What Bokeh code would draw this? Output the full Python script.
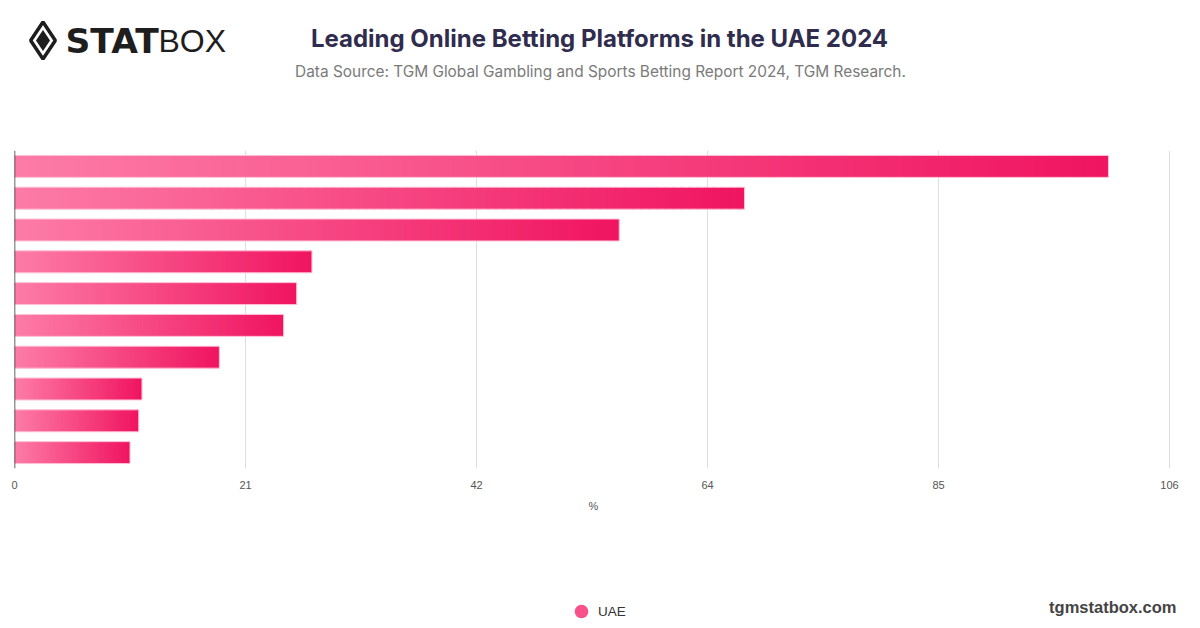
import numpy as np
from bokeh.plotting import figure
from bokeh.layouts import column
from bokeh.models import (FactorRange, Range1d, FixedTicker, Span, Label,
                          Legend, LegendItem, ColumnDataSource)
from bokeh.embed import file_html
from bokeh.resources import INLINE

# ---- data ----
platforms = ["Platform 1", "Platform 2", "Platform 3", "Platform 4", "Platform 5",
             "Platform 6", "Platform 7", "Platform 8", "Platform 9", "Platform 10"]
uae_share = [100.4, 67.0, 55.5, 27.3, 25.9, 24.7, 18.8, 11.7, 11.4, 10.6]
tick_values = [0, 21.2, 42.4, 63.6, 84.8, 106]
tick_labels = ["0", "21", "42", "64", "85", "106"]
axis_max = 106
axis_title = "%"
series_name = "UAE"
title_text = "Leading Online Betting Platforms in the UAE 2024"
subtitle_text = "Data Source: TGM Global Gambling and Sports Betting Report 2024, TGM Research."

W = 1200
HH, MH, FH = 140, 355, 133
FL = 14          # frame left (page px)
AX_R = 1169      # page px where axis_max sits
# extend the frame to the right page edge while keeping axis_max at AX_R
x_end = axis_max * (W - FL) / (AX_R - FL)


def canvas(h):
    f = figure(width=W, height=h, output_backend="svg", toolbar_location=None,
               x_range=Range1d(FL, W), y_range=Range1d(0, h),
               x_axis_type=None, y_axis_type=None,
               min_border_left=FL, min_border_right=0,
               min_border_top=0, min_border_bottom=0)
    f.outline_line_color = None
    f.background_fill_color = "white"
    f.border_fill_color = "white"
    return f


# ---- header ----
hd = canvas(HH)
hd.add_layout(Label(x=599, y=HH - 38, text=title_text, text_align="center",
                    text_baseline="middle", text_font="Inter", text_font_style="bold",
                    text_font_size="24px", text_color="#2f2c4d"))
hd.add_layout(Label(x=600, y=HH - 71, text=subtitle_text, text_align="center",
                    text_baseline="middle", text_font="Inter",
                    text_font_size="15.4px", text_color="#7a7a7a"))
# logo
hd.scatter(x=[42.5], y=[HH - 40], marker="diamond", size=37, fill_color=None,
           line_color="#1e1e1e", line_width=3.5)
hd.scatter(x=[42.5], y=[HH - 40], marker="diamond", size=21, fill_color="#1e1e1e",
           line_color=None)
hd.add_layout(Label(x=65, y=HH - 40, text="STAT", text_align="left",
                    text_baseline="middle", text_font="DejaVu Sans",
                    text_font_style="bold", text_font_size="34.5px", text_color="#1e1e1e"))
hd.add_layout(Label(x=158, y=HH - 40, text="BOX", text_align="left",
                    text_baseline="middle", text_font="Liberation Sans",
                    text_font_size="32px", text_color="#1e1e1e"))

# ---- main chart ----
p = figure(width=W, height=MH, output_backend="svg", toolbar_location=None,
           y_range=FactorRange(factors=list(reversed(platforms)), range_padding=0),
           x_range=Range1d(0, x_end),
           min_border_left=FL, min_border_right=0, min_border_top=10,
           min_border_bottom=27)
p.outline_line_color = None
p.background_fill_color = "white"
p.border_fill_color = "white"

c0 = np.array([0xfd, 0x7c, 0xa7], float)
c1 = np.array([0xf0, 0x14, 0x60], float)
N = 90
ys, lefts, rights, cols = [], [], [], []
for name, v in zip(platforms, uae_share):
    for k in range(N):
        t = (k + 0.5) / N
        c = (1 - t) * c0 + t * c1
        ys.append(name)
        lefts.append(v * k / N)
        rights.append(v * (k + 1) / N + (v / N * 0.6 if k < N - 1 else 0))
        cols.append("#%02x%02x%02x" % tuple(int(round(x)) for x in c))
src = ColumnDataSource(dict(y=ys, left=lefts, right=rights, color=cols))
p.hbar(y="y", left="left", right="right", height=0.69, source=src,
       fill_color="color", line_color=None)
p.hbar(y=platforms, left=0, right=uae_share, height=0.69,
       fill_alpha=0, line_color="#ffc2d6", line_width=1)

p.yaxis.visible = False
p.xaxis.ticker = FixedTicker(ticks=tick_values)
p.xaxis.major_label_overrides = {v: l for v, l in zip(tick_values, tick_labels)}
p.xaxis.axis_line_color = None
p.xaxis.major_tick_line_color = None
p.xaxis.major_tick_out = 0
p.xaxis.major_tick_in = 0
p.xaxis.minor_tick_line_color = None
p.xaxis.major_label_standoff = 12
p.xaxis.major_label_text_font = "Liberation Sans"
p.xaxis.major_label_text_font_size = "11px"
p.xaxis.major_label_text_color = "#555555"
p.xgrid.grid_line_color = "#dedede"
p.xgrid.grid_line_width = 1
p.ygrid.grid_line_color = None
p.add_layout(Span(location=0, dimension="height", line_color="#333333", line_width=1.5))

# ---- footer: axis title, legend, site ----
ft = canvas(FH)
ft.add_layout(Label(x=593, y=FH - 10, text=axis_title, text_align="center",
                    text_baseline="middle", text_font="Liberation Sans",
                    text_font_size="11px", text_color="#555555"))
dummy = ft.scatter(x=[-100], y=[-100], size=14, marker="circle",
                   fill_color="#f7508a", line_color=None)
legend = Legend(items=[LegendItem(label=series_name, renderers=[dummy])],
                location=(550, 0), orientation="horizontal",
                background_fill_alpha=0, border_line_color=None,
                padding=0, margin=0, glyph_width=34, glyph_height=34,
                label_standoff=0, label_text_font="Liberation Sans",
                label_text_font_size="13.5px", label_text_color="#333333")
ft.add_layout(legend, "center")
ft.add_layout(Label(x=1176, y=FH - 111, text="tgmstatbox.com", text_align="right",
                    text_baseline="middle", text_font="Liberation Sans",
                    text_font_style="bold", text_font_size="16.5px", text_color="#444444"))

layout = column(hd, p, ft, spacing=0)
open("out.html", "w").write(file_html(layout, INLINE))
